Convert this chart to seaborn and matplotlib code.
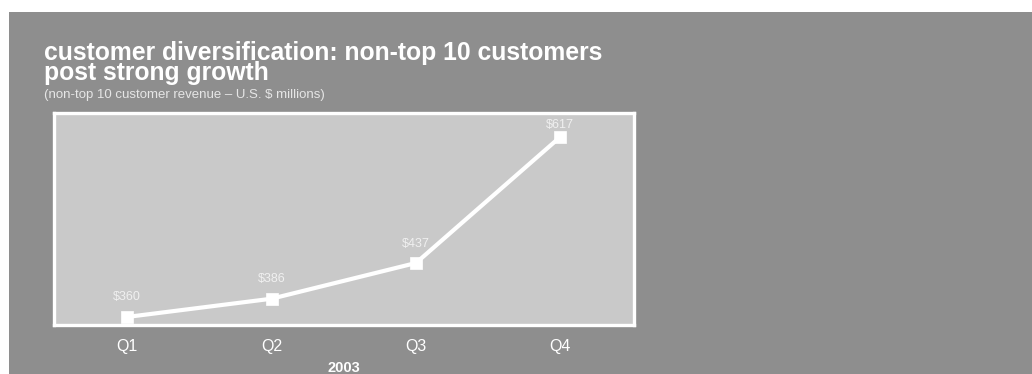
import matplotlib
matplotlib.use("Agg")
import matplotlib.pyplot as plt
import seaborn as sns
import pandas as pd
from matplotlib.patches import Rectangle

# Chart data
quarters = ["Q1", "Q2", "Q3", "Q4"]
revenue = [360, 386, 437, 617]
year_label = "2003"
title_lines = ["customer diversification: non-top 10 customers", "post strong growth"]
subtitle = "(non-top 10 customer revenue \u2013 U.S. $ millions)"

sns.set_theme(style="white")
plt.rcParams["font.family"] = ["Liberation Sans", "DejaVu Sans"]

W, H = 1032, 374
fig = plt.figure(figsize=(W / 100, H / 100), dpi=100)
fig.patch.set_facecolor("white")

# grey backdrop panel
fig.add_artist(Rectangle((9 / W, 0), 1, 1 - 12 / H, transform=fig.transFigure,
                         facecolor="#8e8e8e", edgecolor="none", zorder=0))

# headline (two tight lines) and subtitle
fig.text(44 / W, 1 - 80 / H, "\n".join(title_lines), color="white", fontsize=17.8,
         fontweight="bold", ha="left", va="baseline", linespacing=0.78)
fig.text(44 / W, 1 - 98 / H, subtitle, color="#e6e6e6", fontsize=9.5,
         ha="left", va="baseline")

ax = fig.add_axes([54 / W, 1 - 325 / H, 580 / W, 212 / H])
ax.set_facecolor("#c9c9c9")

df = pd.DataFrame({"quarter": quarters, "revenue": revenue})
sns.lineplot(data=df, x="quarter", y="revenue", ax=ax, sort=False,
             color="white", linewidth=3, marker="s", markersize=8,
             markeredgecolor="white", markeredgewidth=0.5, zorder=3)

ax.set_xlim(-0.507, 3.51)
ax.set_ylim(348.5, 651)

# value labels above each point
for i, v in enumerate(revenue):
    off = 14 if v < 600 else 8.5
    ax.annotate(f"${v}", (i, v), xytext=(0, off), textcoords="offset points",
                ha="center", va="center", color="#f0f0f0", fontsize=9)

for s in ax.spines.values():
    s.set_color("white")
    s.set_linewidth(2.4)
    s.set_visible(True)

ax.set_yticks([])
ax.tick_params(axis="x", length=0, pad=10, labelcolor="white", labelsize=11.5)
ax.set_ylabel("")
ax.set_xlabel(year_label, color="white", fontsize=10.5, fontweight="bold", labelpad=5)

fig.savefig("out.png", dpi=100, facecolor=fig.get_facecolor())
